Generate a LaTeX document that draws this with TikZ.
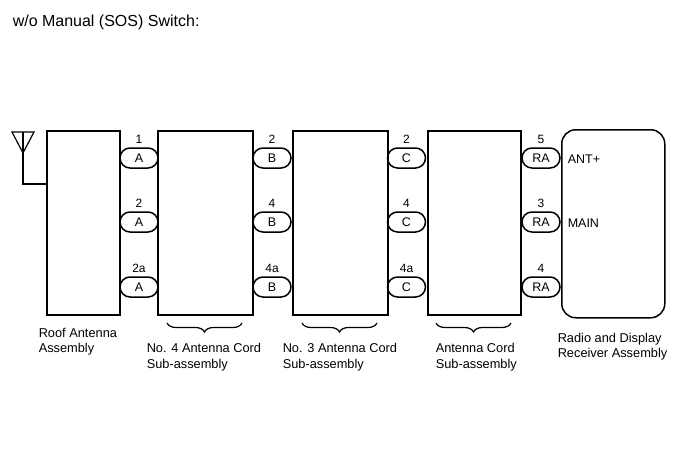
\documentclass[tikz,border=0pt]{standalone}
\usepackage{fontspec}
\setmainfont{Liberation Sans}
\usetikzlibrary{shapes.misc,decorations.pathreplacing}
\begin{document}
\begin{tikzpicture}[x=1pt,y=-1pt,
  line width=1.5pt,
  unit/.style={draw,rectangle,inner sep=0pt,anchor=north west},
  pill/.style={draw,rounded rectangle,inner sep=0pt,minimum width=38pt,minimum height=20pt,font=\fontsize{12.5}{14}\selectfont},
  pin/.style={anchor=base,inner sep=0pt,font=\fontsize{12}{14}\selectfont},
  lbl/.style={anchor=base west,inner sep=0pt,font=\fontsize{12.8}{15}\selectfont},
  sig/.style={anchor=base west,inner sep=0pt,font=\fontsize{12.5}{15}\selectfont},
  brc/.style={decorate,decoration={brace,amplitude=9pt,mirror},line width=1.2pt}]
\path[fill=white] (0,0) rectangle (688,463);
\useasboundingbox (0,0) rectangle (688,463);

\node[anchor=base west,inner sep=0pt,font=\fontsize{16}{18}\selectfont] (title) at (12,26) {w/o Manual (SOS) Switch:};

% units
\node[unit,minimum width=73pt,minimum height=184pt] (roof) at (46,130) {};
\node[unit,minimum width=95pt,minimum height=184pt] (c4) at (157,130) {};
\node[unit,minimum width=95pt,minimum height=184pt] (c3) at (292,130) {};
\node[unit,minimum width=93pt,minimum height=184pt] (cc) at (427,130) {};
\node[draw,rectangle,rounded corners=14pt,inner sep=0pt,anchor=north west,minimum width=103pt,minimum height=188pt] (radio) at (561,129) {};

% antenna
\coordinate (antl) at (12,132);
\coordinate (antr) at (34,132);
\coordinate (antt) at (23,132);
\coordinate (antapex) at (23,153);
\coordinate (feed) at (46,184);
\draw[line width=1.2pt] (antl) -- (antr) -- (antapex) -- cycle;
\draw[line width=1.2pt] (antt) -- (antapex) |- (feed);

% connectors
\foreach \cx/\nm/\l/\pa/\pb/\pc in {139/a/A/1/2/2a, 272/b/B/2/4/4a, 406.5/c/C/2/4/4a, 541/r/RA/5/3/4}{
  \node[pill] (\nm1) at (\cx,158) {\l};
  \node[pill] (\nm2) at (\cx,222) {\l};
  \node[pill] (\nm3) at (\cx,287) {\l};
  \node[pin] (\nm1n) at (\cx,143) {\pa};
  \node[pin] (\nm2n) at (\cx,207.5) {\pb};
  \node[pin] (\nm3n) at (\cx,272.5) {\pc};
}

\node[sig] (antp) at (567,163) {ANT+};
\node[sig] (main) at (567,227) {MAIN};

% braces
\coordinate (b4l) at (167,323); \coordinate (b4r) at (242,323);
\coordinate (b3l) at (302,323); \coordinate (b3r) at (377,323);
\coordinate (bcl) at (436,323); \coordinate (bcr) at (511,323);
\draw[brc] (b4l) -- (b4r);
\draw[brc] (b3l) -- (b3r);
\draw[brc] (bcl) -- (bcr);

% labels
\node[lbl] (roofa) at (38,337) {Roof Antenna};
\node[lbl] (roofb) at (38,352) {Assembly};
\node[lbl] (c4a) at (146,352) {No. 4 Antenna Cord};
\node[lbl] (c4b) at (146,368) {Sub-assembly};
\node[lbl] (c3a) at (282,352) {No. 3 Antenna Cord};
\node[lbl] (c3b) at (282,368) {Sub-assembly};
\node[lbl] (cca) at (435,352) {Antenna Cord};
\node[lbl] (ccb) at (435,368) {Sub-assembly};
\node[lbl] (rda) at (557,342) {Radio and Display};
\node[lbl] (rdb) at (557,357) {Receiver Assembly};
\end{tikzpicture}
\end{document}
